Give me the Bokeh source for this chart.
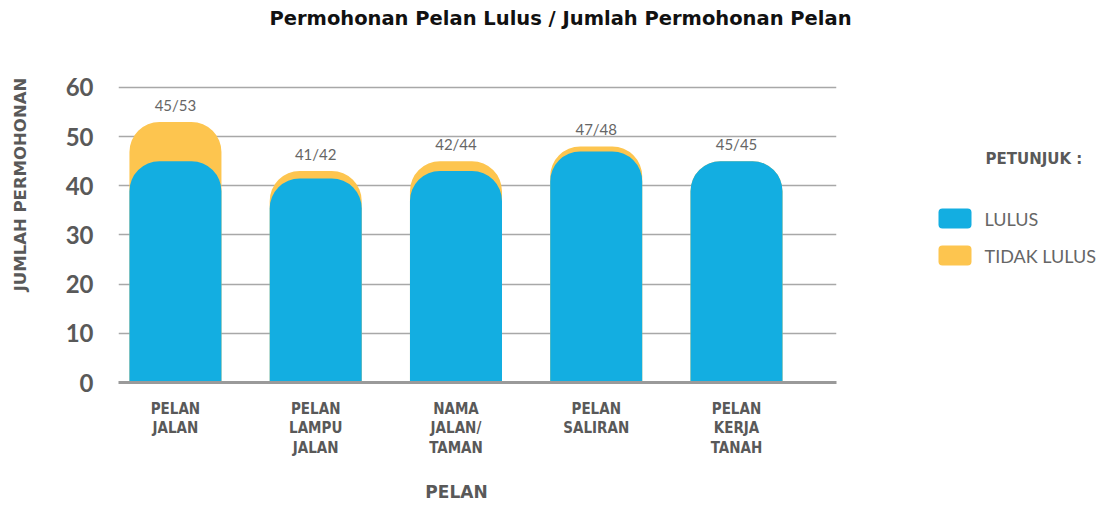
import math
from bokeh.plotting import figure
from bokeh.layouts import row, column
from bokeh.models import ColumnDataSource, FixedTicker, Label, Range1d
from bokeh.core.properties import value
from bokeh.embed import file_html
from bokeh.resources import INLINE

categories = ["PELAN\nJALAN", "PELAN\nLAMPU\nJALAN", "NAMA\nJALAN/\nTAMAN", "PELAN\nSALIRAN", "PELAN\nKERJA\nTANAH"]
lulus = [45, 41.5, 43, 47, 45]
jumlah = [53, 43, 45, 48, 45]
bar_labels = ["45/53", "41/42", "42/44", "47/48", "45/45"]
y_ticks = [0, 10, 20, 30, 40, 50, 60]
series_names = ["LULUS", "TIDAK LULUS"]

BLUE = "#13AEE1"
ORANGE = "#FDC54F"
GREY = "#595959"

# row geometry: plot frames in a row are aligned, so side strips share the main frame
ROW_H = 420
TOP_B = 5
BOT_B = 78
FRAME_H = ROW_H - TOP_B - BOT_B


def blank(w, h, top=0, bottom=0):
    f = figure(width=w, height=h, output_backend="svg", toolbar_location=None,
               x_range=Range1d(0, w), y_range=Range1d(0, h - top - bottom),
               x_axis_type=None, y_axis_type=None,
               min_border=0, min_border_left=0, min_border_right=0,
               min_border_top=top, min_border_bottom=bottom)
    f.grid.visible = False
    f.outline_line_color = None
    f.border_fill_color = "white"
    return f


# ---- title strip
t = blank(1100, 40)
t.add_layout(Label(x=560, y=22, text="Permohonan Pelan Lulus / Jumlah Permohonan Pelan",
                   text_align="center", text_baseline="middle", text_font="DejaVu Sans",
                   text_font_style="bold", text_font_size="19.5px", text_color="#111111"))

# ---- y label strip
yl = blank(40, ROW_H, TOP_B, BOT_B)
yl.add_layout(Label(x=20, y=198, text="JUMLAH PERMOHONAN", angle=math.pi / 2,
                    text_align="center", text_baseline="middle", text_font="DejaVu Sans",
                    text_font_style="bold", text_font_size="16.5px", text_color=GREY))

# ---- main chart
xs = list(range(len(categories)))
src = ColumnDataSource(dict(x=xs, lulus=lulus, jumlah=jumlah, lab=bar_labels))

p = figure(width=840, height=ROW_H, output_backend="svg", toolbar_location=None,
           x_range=Range1d(-0.406, 4.713), y_range=Range1d(0, 68.54),
           min_border_left=78, min_border_right=44, min_border_top=TOP_B, min_border_bottom=BOT_B)
p.outline_line_color = None
p.border_fill_color = "white"

p.vbar(x="x", top="jumlah", bottom=0, width=0.656, source=src, fill_color=ORANGE,
       line_color=None, border_radius=(30, 30, 0, 0))
p.vbar(x="x", top="lulus", bottom=0, width=0.656, source=src, fill_color=BLUE,
       line_color=None, border_radius=(30, 30, 0, 0))

p.text(x="x", y="jumlah", text="lab", source=src, text_align="center", text_baseline="bottom",
       y_offset=-8, text_font_size="15px", text_color="#666666", text_font=value("Lato"))

p.xgrid.grid_line_color = None
p.ygrid.grid_line_color = "#A8A8A8"
p.ygrid.grid_line_width = 1.5
p.yaxis.ticker = FixedTicker(ticks=y_ticks)
p.yaxis.axis_line_color = None
p.yaxis.major_tick_line_color = None
p.yaxis.minor_tick_line_color = None
p.yaxis.major_label_standoff = 19
p.yaxis.major_label_text_font = "Lato"
p.yaxis.major_label_text_font_style = "bold"
p.yaxis.major_label_text_font_size = "24px"
p.yaxis.major_label_text_color = GREY

p.xaxis.ticker = FixedTicker(ticks=xs)
p.xaxis.major_label_overrides = {i: c for i, c in zip(xs, categories)}
p.xaxis.axis_line_color = "#9A9A9A"
p.xaxis.axis_line_width = 3
p.xaxis.major_tick_line_color = None
p.xaxis.minor_tick_line_color = None
p.xaxis.major_label_standoff = 11
p.xaxis.major_label_text_baseline = "middle"
p.xaxis.major_label_text_line_height = 1.1
p.xaxis.major_label_text_font = "DejaVu Sans Condensed"
p.xaxis.major_label_text_font_style = "bold"
p.xaxis.major_label_text_font_size = "15px"
p.xaxis.major_label_text_color = GREY

# ---- legend strip
q = blank(220, ROW_H, TOP_B, BOT_B)
q.add_layout(Label(x=105, y=224, text="PETUNJUK :", text_align="left", text_baseline="middle",
                   text_font="DejaVu Sans", text_font_style="bold", text_font_size="15px",
                   text_color=GREY))
leg = ColumnDataSource(dict(x=[74.5, 74.5], y=[164, 127], tx=[104, 104],
                            color=[BLUE, ORANGE], name=series_names))
q.rect(x="x", y="y", width=33, height=20, source=leg, fill_color="color", line_color=None,
       border_radius=4)
q.text(x="tx", y="y", text="name", source=leg, text_align="left", text_baseline="middle",
       text_font=value("Lato"), text_font_size="18px", text_color="#666666")

# ---- x label strip
xl = blank(1100, 40)
xl.add_layout(Label(x=456, y=9, text="PELAN", text_align="center", text_baseline="middle",
                    text_font="DejaVu Sans", text_font_style="bold", text_font_size="17px",
                    text_color=GREY))

layout = column(t, row(yl, p, q, spacing=0), xl, spacing=0)
open("out.html", "w").write(file_html(layout, INLINE))
